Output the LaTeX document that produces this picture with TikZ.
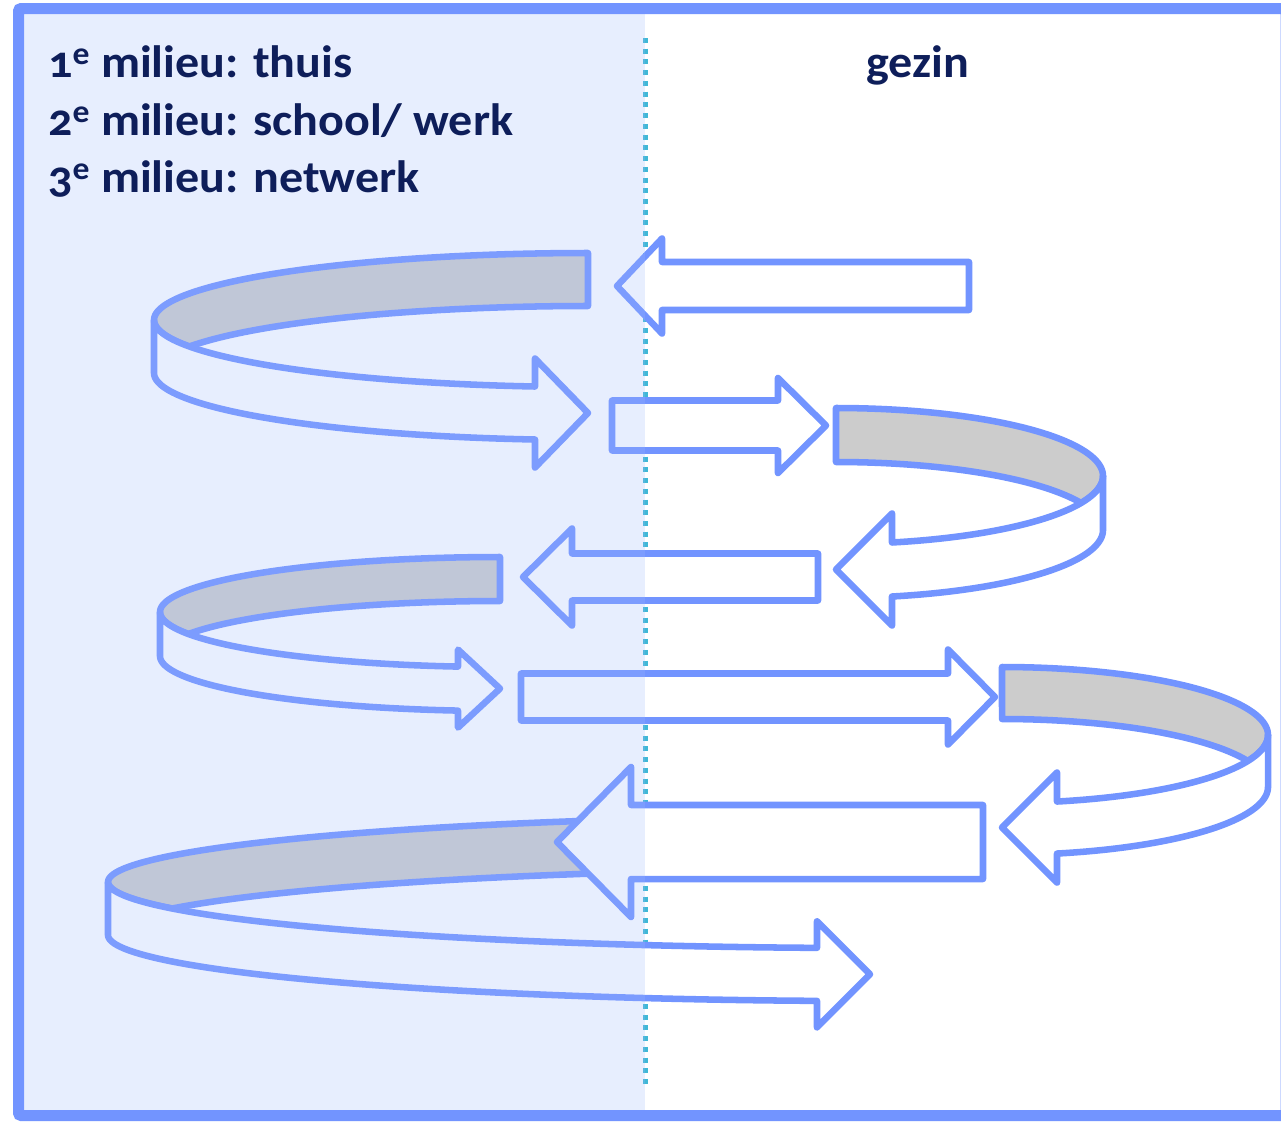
\documentclass[tikz,border=0pt]{standalone}
\usepackage{fontspec}
\setmainfont{Carlito}[Numbers=OldStyle, FakeStretch=1.06]
\definecolor{outblue}{RGB}{114,148,255}
\definecolor{bandgray}{RGB}{204,204,204}
\definecolor{navy}{RGB}{14,30,90}
\definecolor{dotcyan}{RGB}{64,184,214}
\definecolor{tintblue}{RGB}{157,183,251}
\tikzset{
  band/.style={fill=bandgray, draw=outblue, line width=4.9pt, line join=round},
  front/.style={fill=white, draw=outblue, line width=4.9pt, line join=round},
  straightarr/.style={fill=white, draw=outblue, line width=4.9pt, line join=round},
  lbl/.style={inner sep=0pt, text=navy, font=\fontsize{34}{43}\selectfont\bfseries},
}
% curved ribbon arrow: #1 cx (tip x), #2 cy (upper ellipse centre y), #3 rx, #4 ry, #5 band width, #6 head length, #7 head half height, #8 xscale (1: loop left, -1: loop right)
\newcommand\curvarr[8]{%
  \begin{scope}[shift={(#1,0)}, xscale=#8]
    \pgfmathsetmacro\caAl{asin(#5/(2*#4))}
    \pgfmathsetmacro\caA{180-\caAl}
    \pgfmathsetmacro\caB{180+\caAl}
    \pgfmathsetmacro\caT{acos(-#6/#3)}
    \pgfmathsetmacro\caS{#2+#4*sin(\caT)}
    \pgfmathsetmacro\caM{\caS+#5/2}
    \filldraw[band] plot[domain=270:\caA, samples=90] ({#3*cos(\x)},{#2+#4*sin(\x)})
      -- plot[domain=\caB:270, samples=90] ({#3*cos(\x)},{#2+#5+#4*sin(\x)}) -- cycle;
    \filldraw[front] (-#3,#2) -- (-#3,#2+#5)
      -- plot[domain=180:\caT, samples=90] ({#3*cos(\x)},{#2+#5+#4*sin(\x)})
      -- (-#6,\caM+#7) -- (0,\caM) -- (-#6,\caM-#7) -- (-#6,\caS)
      -- plot[domain=\caT:180, samples=90] ({#3*cos(\x)},{#2+#4*sin(\x)}) -- cycle;
  \end{scope}}
% straight block arrow: #1 tail x, #2 tip x, #3 mid y, #4 shaft half height, #5 head base x, #6 head half height
\newcommand\sarr[6]{%
  \filldraw[straightarr] (#1,#3-#4) -- (#5,#3-#4) -- (#5,#3-#6) -- (#2,#3) -- (#5,#3+#6) -- (#5,#3+#4) -- (#1,#3+#4) -- cycle;}
\begin{document}
\begin{tikzpicture}[x=0.75pt,y=-0.75pt]
\useasboundingbox (0,0) rectangle (1281,1122);
\fill[white] (0,0) rectangle (1281,1122);
% frame
\draw[outblue, line width=8.25pt, rounded corners=2pt] (18.5,8.5) rectangle (1286,1115.5);
% dotted divider
\coordinate (dtop) at (645,38);
\coordinate (dbot) at (645,1088);
\draw[dotcyan, line width=3.75pt, dash pattern=on 3.75pt off 4.3pt] (dtop) -- (dbot);
% arrows
\sarr{969}{617}{286}{24}{662}{47.5}
\curvarr{588}{320}{434}{67}{53}{53}{54.5}{1}
\sarr{612}{826}{425.5}{25}{778}{47.5}
\curvarr{836}{476}{267}{68}{54}{56}{56}{-1}
\sarr{818}{523}{577}{23.5}{572}{48.5}
\curvarr{500}{612}{340}{55}{44}{42}{39}{1}
\sarr{521}{995}{697}{23.5}{948}{47.5}
\curvarr{1002}{735}{266}{68}{52}{55}{55}{-1}
\curvarr{870}{882}{762}{66}{53}{53}{53}{1}
\sarr{983}{557}{842}{37}{631}{75}
% tint of the left half
\fill[tintblue, opacity=0.235] (24,14) rectangle (645,1110);
% texts
\node[lbl, anchor=base west] (m1) at (48,77) {1\textsuperscript{e} milieu: thuis};
\node[lbl, anchor=base west] (m2) at (48,135) {2\textsuperscript{e} milieu: school/ werk};
\node[lbl, anchor=base west] (m3) at (48,192) {3\textsuperscript{e} milieu: netwerk};
\node[lbl, anchor=base] (gz) at (918,77) {gezin};
\end{tikzpicture}
\end{document}
